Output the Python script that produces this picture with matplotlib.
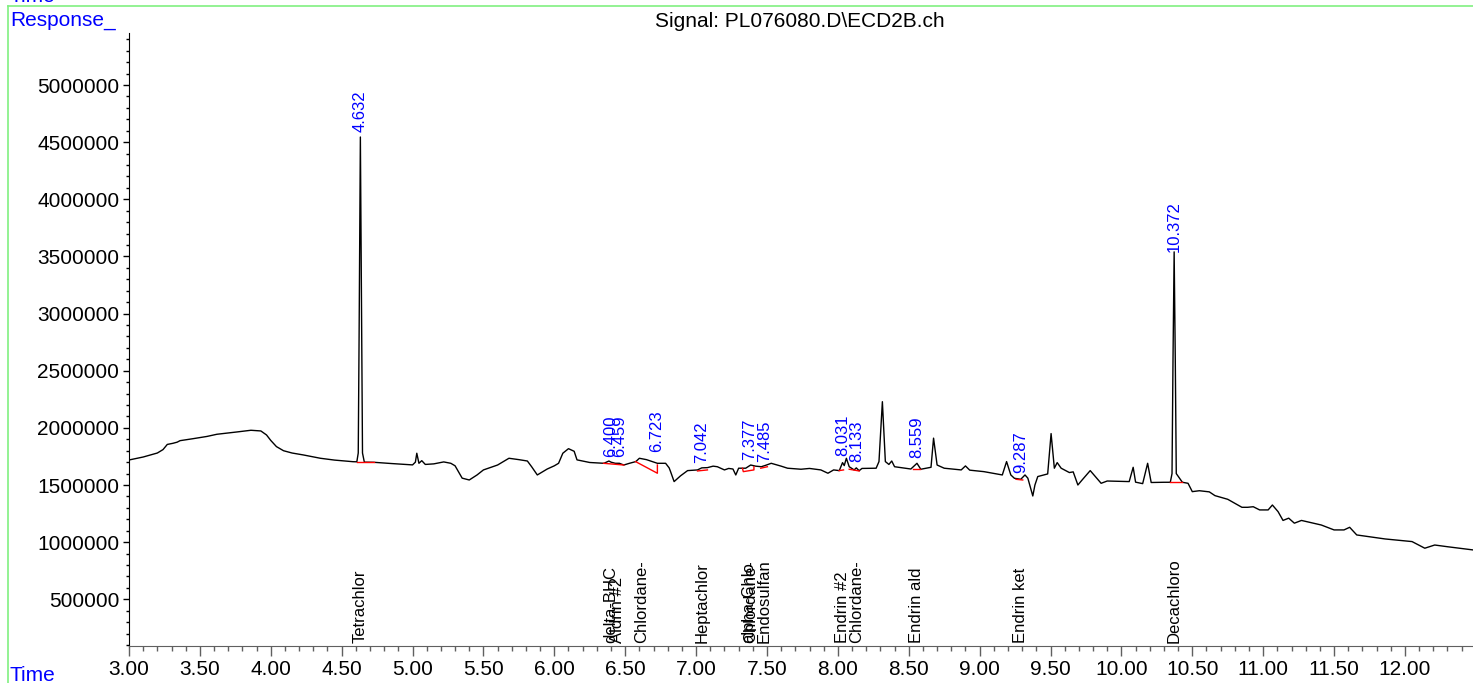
import matplotlib
matplotlib.use("Agg")
import matplotlib.pyplot as plt
from matplotlib.lines import Line2D
from matplotlib.ticker import MultipleLocator, FuncFormatter
import numpy as np

plt.rcParams['font.family'] = ['Liberation Sans', 'DejaVu Sans']

# chromatogram trace (time in min, response in millions)
trace_t = [3.00, 3.10, 3.20, 3.24, 3.27, 3.31, 3.34, 3.36, 3.45, 3.55, 3.62, 3.70, 3.76, 3.86,
           3.93, 3.97, 4.00, 4.04, 4.09, 4.15, 4.23, 4.35, 4.45, 4.58, 4.607, 4.617, 4.623,
           4.632, 4.641, 4.647, 4.66, 4.725, 4.85, 5.00, 5.02, 5.03, 5.045, 5.065, 5.09, 5.15,
           5.22, 5.27, 5.30, 5.35, 5.40, 5.455, 5.50, 5.60, 5.68, 5.75, 5.81, 5.84, 5.88, 5.95,
           6.00, 6.03, 6.06, 6.10, 6.14, 6.16, 6.25, 6.35, 6.385, 6.40, 6.43, 6.459, 6.49,
           6.53, 6.575, 6.60, 6.65, 6.727, 6.785, 6.81, 6.82, 6.845, 6.89, 6.94, 7.01, 7.04,
           7.08, 7.12, 7.15, 7.20, 7.23, 7.26, 7.28, 7.30, 7.35, 7.385, 7.42, 7.46, 7.49, 7.53,
           7.60, 7.645, 7.74, 7.80, 7.88, 7.93, 7.97, 8.01, 8.033, 8.045, 8.06, 8.08, 8.115,
           8.13, 8.15, 8.17, 8.27, 8.29, 8.314, 8.335, 8.36, 8.38, 8.40, 8.515, 8.558, 8.585,
           8.657, 8.675, 8.70, 8.75, 8.87, 8.90, 8.93, 9.03, 9.16, 9.19, 9.22, 9.245, 9.29,
           9.32, 9.34, 9.375, 9.39, 9.41, 9.48, 9.504, 9.527, 9.547, 9.575, 9.633, 9.66, 9.693,
           9.72, 9.78, 9.857, 9.90, 10.055, 10.083, 10.10, 10.15, 10.185, 10.21, 10.30, 10.345,
           10.357, 10.364, 10.372, 10.380, 10.387, 10.43, 10.47, 10.50, 10.55, 10.62, 10.66,
           10.75, 10.85, 10.89, 10.93, 10.975, 11.035, 11.065, 11.105, 11.14, 11.18, 11.22,
           11.27, 11.41, 11.50, 11.57, 11.61, 11.66, 11.86, 12.05, 12.14, 12.21, 12.30, 12.48]
trace_y = [1.719, 1.745, 1.780, 1.810, 1.855, 1.865, 1.875, 1.888, 1.905, 1.925, 1.944, 1.955,
           1.964, 1.979, 1.973, 1.938, 1.890, 1.836, 1.800, 1.780, 1.763, 1.734, 1.718, 1.704,
           1.703, 1.78, 2.80, 4.545, 2.80, 1.78, 1.700, 1.699, 1.688, 1.676, 1.700, 1.778,
           1.690, 1.713, 1.680, 1.685, 1.702, 1.690, 1.668, 1.560, 1.544, 1.588, 1.632, 1.675,
           1.734, 1.722, 1.710, 1.660, 1.588, 1.640, 1.668, 1.690, 1.778, 1.818, 1.795, 1.720,
           1.697, 1.690, 1.710, 1.700, 1.690, 1.690, 1.675, 1.690, 1.705, 1.734, 1.722, 1.690,
           1.690, 1.650, 1.617, 1.530, 1.580, 1.626, 1.632, 1.650, 1.652, 1.665, 1.660, 1.632,
           1.645, 1.640, 1.588, 1.647, 1.647, 1.675, 1.665, 1.660, 1.672, 1.690, 1.665, 1.647,
           1.638, 1.645, 1.632, 1.603, 1.632, 1.626, 1.696, 1.670, 1.734, 1.660, 1.632, 1.650,
           1.625, 1.645, 1.647, 1.705, 2.229, 1.705, 1.680, 1.710, 1.660, 1.640, 1.690, 1.638,
           1.655, 1.910, 1.675, 1.647, 1.632, 1.667, 1.630, 1.617, 1.588, 1.705, 1.588, 1.559,
           1.550, 1.588, 1.560, 1.404, 1.500, 1.574, 1.597, 1.950, 1.647, 1.696, 1.647, 1.609,
           1.615, 1.500, 1.540, 1.626, 1.515, 1.535, 1.530, 1.655, 1.525, 1.512, 1.690, 1.522,
           1.524, 1.524, 1.60, 2.60, 3.540, 2.60, 1.60, 1.524, 1.515, 1.442, 1.450, 1.440,
           1.407, 1.375, 1.305, 1.305, 1.310, 1.282, 1.282, 1.325, 1.267, 1.190, 1.210, 1.166,
           1.190, 1.150, 1.107, 1.107, 1.130, 1.063, 1.028, 1.005, 0.947, 0.975, 0.960, 0.932]

# integration baselines (red), one polyline per peak
base_t = [[4.607, 4.725], [6.347, 6.49], [6.573, 6.727, 6.727], [7.01, 7.08],
          [7.327, 7.333, 7.408, 7.408], [7.456, 7.503], [8.009, 8.04], [8.08, 8.15],
          [8.527, 8.58], [9.257, 9.304], [10.345, 10.43]]
base_y = [[1.702, 1.702], [1.690, 1.675], [1.705, 1.603, 1.675], [1.623, 1.632],
          [1.647, 1.617, 1.632, 1.660], [1.647, 1.660], [1.626, 1.632], [1.638, 1.623],
          [1.640, 1.640], [1.550, 1.544], [1.524, 1.524]]

# retention time labels (blue) and the level of the label foot
peak_rt = [4.632, 6.400, 6.459, 6.723, 7.042, 7.377, 7.485, 8.031, 8.133, 8.559, 9.287, 10.372]
peak_lab_y = [4.591, 1.748, 1.748, 1.790, 1.690, 1.719, 1.704, 1.754, 1.704, 1.740, 1.603, 3.541]

# compound names along the time axis
compounds = ["Tetrachlor", "delta-BHC", "Aldrin #2", "Chlordane-", "Heptachlor", "alpha-Chlo",
             "Chlordane-", "Endosulfan", "Endrin #2", "Chlordane-", "Endrin ald", "Endrin ket",
             "Decachloro"]
compound_t = [4.632, 6.395, 6.447, 6.616, 7.042, 7.374, 7.386, 7.478, 8.035, 8.134, 8.552,
              9.285, 10.372]

W, H = 1473, 683
fig = plt.figure(figsize=(W / 100, H / 100), dpi=100)
ax = fig.add_axes([129 / W, (H - 645.7) / H, (W - 129) / W, (645.7 - 33) / H])

ax.plot(trace_t, np.array(trace_y) * 1e6, color="black", lw=1.0)
for bt, by in zip(base_t, base_y):
    ax.plot(bt, np.array(by) * 1e6, color="red", lw=1.0)

for rt, ly in zip(peak_rt, peak_lab_y):
    ax.text(rt, ly * 1e6, f"{rt:.3f}", rotation=90, ha="center", va="bottom",
            color="#0000FF", fontsize=12)

for name, t in zip(compounds, compound_t):
    ax.annotate(name, xy=(t, 0), xycoords=ax.get_xaxis_transform(), xytext=(0, 2),
                textcoords="offset points", rotation=90, ha="center", va="bottom",
                color="black", fontsize=12)

ax.set_xlim(3.0, 12.48)
ax.set_ylim(94000, 5455000)
ax.xaxis.set_major_locator(MultipleLocator(0.5))
ax.xaxis.set_minor_locator(MultipleLocator(0.1))
ax.xaxis.set_major_formatter(FuncFormatter(lambda v, p: f"{v:.2f}"))
ax.yaxis.set_major_locator(MultipleLocator(500000))
ax.yaxis.set_minor_locator(MultipleLocator(100000))
ax.yaxis.set_major_formatter(FuncFormatter(lambda v, p: f"{int(round(v))}"))

ax.spines["top"].set_visible(False)
ax.spines["right"].set_visible(False)
ax.spines["bottom"].set_color("#606060")
ax.spines["left"].set_color("black")
ax.tick_params(axis="x", which="major", length=7, width=1, color="#606060", labelsize=15, pad=3)
ax.tick_params(axis="x", which="minor", length=3.5, width=1, color="#606060")
ax.tick_params(axis="y", which="major", length=4, width=1, labelsize=15, pad=3)
ax.tick_params(axis="y", which="minor", length=2.5, width=1)

# frame and captions of the report page
fig.add_artist(Line2D([8.3 / W, 1], [1 - 5.5 / H, 1 - 5.5 / H], color="#80F080", lw=1.2))
fig.add_artist(Line2D([8.3 / W, 8.3 / W], [0, 1 - 5.5 / H], color="#80F080", lw=1.2))
fig.text(10 / W, 1 - 2 / H, "Time", color="#0000FF", fontsize=15, va="baseline")
fig.text(10 / W, 1 - 25.7 / H, "Response_", color="#0000FF", fontsize=15, va="baseline")
fig.text(10 / W, 2.3 / H, "Time", color="#0000FF", fontsize=15, va="baseline")
fig.text(799.5 / W, 1 - 26.7 / H, "Signal: PL076080.D\\ECD2B.ch", color="black",
         fontsize=15, ha="center", va="baseline")

fig.savefig("out.png", dpi=100)
